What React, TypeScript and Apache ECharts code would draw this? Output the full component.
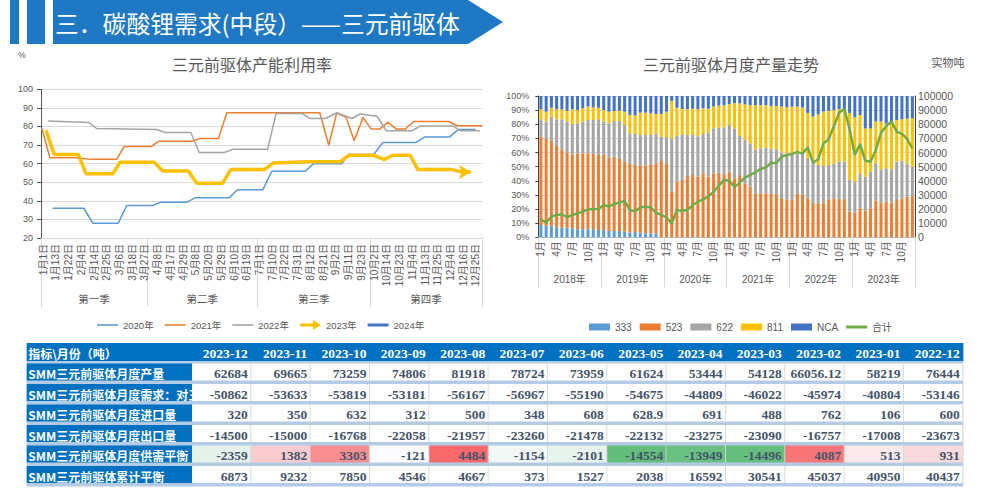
import React, { useEffect, useRef } from 'react';
import * as echarts from 'echarts';

const FONT = "'Liberation Sans','Noto Sans CJK SC',sans-serif";
const CJK = "'Noto Sans CJK SC',sans-serif";
const SERIF = "'Liberation Serif','Noto Sans CJK SC',serif";
const GRAY = '#595959';
const BANNER = '#1f78c3';
const TBLUE = '#0070c0';

// ---------- left chart: 三元前驱体产能利用率 ----------
const dates = [
  '1-1','1-5','1-9','1-13','1-16','1-19','1-22','1-26','1-31','2-4','2-7','2-10','2-14','2-17','2-21','2-25','2-28','3-3','3-6','3-10','3-14','3-18','3-21','3-24','3-27',
  '3-31','4-4','4-8','4-11','4-14','4-17','4-21','4-25','4-29','5-2','5-5','5-8','5-12','5-16','5-20','5-23','5-26','5-29','6-2','6-6','6-10','6-13','6-16','6-19','6-23','6-27',
  '7-1','7-4','7-7','7-10','7-14','7-18','7-22','7-25','7-28','7-31','8-4','8-8','8-12','8-15','8-18','8-21','8-25','8-29','9-2','9-5','9-8','9-11','9-15','9-19','9-23','9-26','9-29',
  '10-2','10-6','10-10','10-14','10-17','10-20','10-23','10-27','10-31','11-4','11-7','11-10','11-13','11-17','11-21','11-25','11-28','12-1','12-4','12-8','12-12','12-16','12-19','12-22','12-25','12-28'
];
const quarterNames = ['第一季', '第二季', '第三季', '第四季'];
const quarterBounds = [0, 25, 51, 77.5, 104];

const util2020 = [[2.75,36],[10.1,36],[12.2,28],[18.2,28],[20.2,37.5],[26.3,37.5],[28.3,39.3],[34.4,39.3],[36.3,41.6],[44.3,41.6],[46.3,46],[52.3,46],[54.4,55.9],[62.3,55.9],[64.2,60],[70.9,60],[72.5,64.9],[78.4,64.9],[80.6,71.4],[88.4,71.4],[90.4,74.4],[96.3,74.4],[98.4,78.4],[102.4,78.4]];
const util2021 = [[0.2,78.9],[2.1,63.2],[8.4,63.2],[11.7,62.3],[17.8,62.3],[19.6,69.2],[25.9,69.2],[27.8,72.1],[35.5,72.1],[37.5,73.5],[41.8,73.5],[43.8,87.4],[65.7,87.4],[67.8,69.9],[69.7,87.4],[71.9,84.9],[73.8,72.3],[75.9,84.9],[77.8,78.6],[79.8,78.6],[81.8,82.3],[83.7,78.6],[85.9,78.6],[87.8,82.7],[96.1,82.7],[98.1,80.4],[104,80.4]];
const util2022 = [[1.7,82.9],[11.2,82.2],[13.1,78.9],[27.3,78.4],[29.2,76.8],[35.3,76.8],[37.3,66],[43.2,66],[45.1,67.7],[53.4,67.7],[55.4,87],[61.5,87],[63.3,84.3],[67,84.3],[69.7,87.4],[73.3,84.3],[75.2,86.7],[79.2,85.5],[81.4,77.7],[87.4,77.7],[89.4,80.2],[97.2,80.2],[98.8,77.7],[103.4,77.7]];
const util2023 = [[1.2,78],[3.1,64.9],[8.8,64.9],[10.6,54.6],[16.9,54.6],[18.6,60.7],[26.7,60.7],[28.7,56],[34.7,56],[36.7,49.5],[42.8,49.5],[44.7,56.8],[52.6,56.8],[54.8,60.4],[62.7,61],[70.5,61],[72.5,64.5],[78.4,64.5],[80.9,62.2],[82.9,64.5],[87,64.5],[88.8,56.8],[96.8,56.8],[99.2,55.5],[101.3,55.5]];
const util2024: number[][] = [];

// ---------- right chart: 三元前驱体月度产量走势 ----------
const years = ['2018年', '2019年', '2020年', '2021年', '2022年', '2023年'];
const monthNames = ['1月','2月','3月','4月','5月','6月','7月','8月','9月','10月','11月','12月'];
const share333 = [8.7,8.0,8.3,7.1,6.8,6.8,6.4,5.7,5.7,5.7,5.7,5.2, 5.2,4.5,4.5,4.5,4.0,3.3,3.8,3.3,2.8,2.8,2.8,0, 0,0,0,0,0,0,0,0,0,0,0,0, 0,0,0,0,0,0,0,0,0,0,0,0, 0,0,0,0,0,0,0,0,0,0,0,0, 0,0,0,0,0,0,0,0,0,0,0,0];
const share523 = [62.5,61.6,59.9,57.5,55.5,53.1,51.9,53.7,53.7,53.7,53.3,53.1, 53.1,51.9,52.6,50.9,49.5,48.6,47.4,47.6,48.1,48.6,49.6,54.0, 51.9,32.3,39.4,40.6,43.4,44.1,42.9,45.3,42.9,45.3,45.8,44.6, 46.5,41.7,44.0,38.2,35.8,30.7,30.7,31.1,30.7,30.5,27.6,26.9, 26.4,30.7,30.0,27.6,24.5,24.1,24.1,26.9,27.6,27.0,27.0,18.2, 17.5,20.5,18.9,20.5,25.9,24.5,25.2,24.5,26.4,27.6,28.8,29.2];
const share622 = [12.3,12.2,17.2,18.9,21.2,21.9,21.7,21.3,22.4,23.6,24.0,25.2, 23.5,24.3,25.2,26.9,26.0,21.6,21.9,21.5,21.5,21.0,21.2,17.2, 18.9,37.3,32.5,32.3,29.0,28.8,28.6,27.8,31.2,31.8,31.8,33.2, 33.0,35.3,28.0,30.8,30.7,31.3,32.3,32.3,32.3,31.8,32.4,32.5, 33.6,28.7,29.4,28.4,29.5,27.1,26.4,24.3,24.3,26.5,26.5,22.4, 21.9,24.8,24.0,26.0,26.5,23.6,23.6,23.6,27.1,26.6,23.1,20.8];
const share811 = [7.1,7.1,6.3,7.1,7.1,7.8,10.6,9.4,9.5,9.5,9.0,8.2, 8.3,8.2,7.1,7.3,9.4,13.1,13.0,15.8,15.8,15.3,13.7,16.1, 18.1,26.9,19.8,17.9,18.2,18.1,19.1,18.2,16.9,15.4,15.6,15.6, 14.8,18.0,22.8,25.0,27.0,31.5,30.5,30.1,30.0,30.7,32.5,32.6, 32.5,33.1,32.6,32.0,31.5,35.8,38.5,38.3,38.1,37.0,36.0,47.4, 45.6,41.2,34.1,30.5,29.6,33.9,31.7,33.9,29.5,29.3,32.1,34.3];
const shareNCA = [9.4,11.1,8.3,9.4,9.4,10.4,9.4,9.9,8.7,7.5,8.0,8.3, 9.9,11.1,10.6,10.4,11.1,13.4,13.9,11.8,11.8,12.3,12.7,12.7, 11.1,3.5,8.3,9.2,9.4,9.0,9.4,8.7,9.0,7.5,6.8,6.6, 5.7,5.0,5.2,6.0,6.5,6.5,6.5,6.5,7.0,7.0,7.5,8.0, 7.5,7.5,8.0,12.0,14.5,13.0,11.0,10.5,10.0,9.5,10.5,12.0, 15.0,13.5,23.0,23.0,18.0,18.0,19.5,18.0,17.0,16.5,16.0,15.5];
const totalOutput = [12700,10400,14600,15800,16300,14200,15800,17000,18200,19800,19800,20000, 22900,21700,23600,24500,25700,19300,18200,21200,21700,21200,17500,15800, 14200,9900,19300,18600,19300,22900,25200,26900,28800,32300,36500,40600, 40200,35500,38700,42200,44100,46000,48300,49500,52800,52400,57000,58300, 59000,60400,59400,63700,52800,55200,66500,69300,78800,88200,91000,76444, 58219,66056,54128,53444,61624,73959,78724,81918,74806,73259,69665,62684];

// ---------- table ----------
const tableHeader = '指标\\月份（吨）';
const tableMonths = ['2023-12','2023-11','2023-10','2023-09','2023-08','2023-07','2023-06','2023-05','2023-04','2023-03','2023-02','2023-01','2022-12'];
const rowNames = ['SMM三元前驱体月度产量','SMM三元前驱体月度需求：对三','SMM三元前驱体月度进口量','SMM三元前驱体月度出口量','SMM三元前驱体月度供需平衡','SMM三元前驱体累计平衡'];
const production = [62684,69665,73259,74806,81918,78724,73959,61624,53444,54128,66056.12,58219,76444];
const demand = [-50862,-53633,-53819,-53181,-56167,-56967,-55190,-54675,-44809,-46022,-45974,-40804,-53146];
const imports = [320,350,632,312,500,348,608,628.9,691,488,762,106,600];
const exports = [-14500,-15000,-16768,-22058,-21957,-23260,-21478,-22132,-23275,-23090,-16757,-17008,-23673];
const balance = [-2359,1382,3303,-121,4484,-1154,-2101,-14554,-13949,-14496,4087,513,931];
const cumulative = [6873,9232,7850,4546,4667,373,1527,2038,16592,30541,45037,40950,40437];

const LABEL_SPAN = 2.786;
const HEADER_FILL = 18 / 20.5;
const ROW_FILL = 17 / 20.5;

function balanceColor(v: number): string {
  const sorted = [...balance].sort((a, b) => a - b);
  const mid = sorted[Math.floor(sorted.length / 2)];
  const lo = sorted[0];
  const hi = sorted[sorted.length - 1];
  const white = [252, 252, 255];
  let t: number;
  let target: number[];
  if (v >= mid) { t = (v - mid) / (hi - mid); target = [248, 105, 107]; }
  else { t = (v - mid) / (lo - mid); target = [99, 190, 123]; }
  const c = white.map((w, i) => Math.round(w + (target[i] - w) * t));
  return `rgb(${c[0]},${c[1]},${c[2]})`;
}

type Cell = { x0: number; x1: number; row: number; text: string; fill: string; color: string; align: 'left' | 'right'; cjk: boolean; border: boolean };

function buildCells(): Cell[] {
  const cells: Cell[] = [];
  cells.push({ x0: -LABEL_SPAN, x1: tableMonths.length, row: 0, text: '', fill: TBLUE, color: '#fff', align: 'left', cjk: true, border: false });
  cells.push({ x0: -LABEL_SPAN, x1: 0, row: 0, text: tableHeader, fill: '', color: '#fff', align: 'left', cjk: true, border: false });
  tableMonths.forEach((m, j) => cells.push({ x0: j, x1: j + 1, row: 0, text: m, fill: '', color: '#fff', align: 'right', cjk: false, border: false }));
  const rows = [production, demand, imports, exports, balance, cumulative];
  rows.forEach((vals, r) => {
    cells.push({ x0: -LABEL_SPAN, x1: 0, row: r + 1, text: rowNames[r], fill: TBLUE, color: '#fff', align: 'left', cjk: true, border: false });
    vals.forEach((v, j) => cells.push({
      x0: j, x1: j + 1, row: r + 1, text: String(v),
      fill: vals === balance ? balanceColor(v) : '#ffffff',
      color: '#44546a', align: 'right', cjk: false, border: true,
    }));
  });
  return cells;
}

const THIN = 'path://M0,0L21,0L21,1.6L0,1.6Z';
const THICK = 'path://M0,0L21,0L21,3L0,3Z';
const ARROW = 'path://M0,3.5L13,3.5L13,0L21,5L13,10L13,6.5L0,6.5Z';

function buildOption(): any {
  const cells = buildCells();
  const monthCats = years.flatMap((y) => monthNames.map((m) => `${y}-${m}`));
  const quarterMids = quarterNames.map((_, i) => (quarterBounds[i] + quarterBounds[i + 1]) / 2);
  const lineSeries = (name: string, data: number[][], color: string, width: number) => ({
    name, type: 'line', xAxisIndex: 1, yAxisIndex: 1, data, symbol: 'none', showSymbol: true,
    lineStyle: { color, width }, itemStyle: { color }, z: width > 3 ? 4 : 3,
  });
  const arrowData: any[] = util2023.map((p, i) => i === util2023.length - 1
    ? { value: p, symbol: 'arrow', symbolSize: [11, 12], symbolRotate: -90 }
    : p);
  const barColors = ['#5b9bd5', '#ed7d31', '#a5a5a5', '#ffc000', '#4472c4'];
  const barNames = ['333', '523', '622', '811', 'NCA'];
  const barData = [share333, share523, share622, share811, shareNCA];

  return {
    animation: false,
    backgroundColor: '#ffffff',
    textStyle: { fontFamily: FONT },
    graphic: [
      { type: 'rect', shape: { x: 10, y: 0, width: 9, height: 44 }, style: { fill: BANNER } },
      { type: 'rect', shape: { x: 27, y: 0, width: 18, height: 44 }, style: { fill: BANNER } },
      { type: 'polygon', shape: { points: [[53, 0], [468, 0], [503, 22], [468, 44], [53, 44]] }, style: { fill: BANNER } },
      { type: 'text', x: 55, y: 22, style: { text: '三．碳酸锂需求(中段）——三元前驱体', fill: '#ffffff', fontSize: 23.8, fontFamily: CJK, verticalAlign: 'middle' } },
      { type: 'text', x: 252, y: 64, style: { text: '三元前驱体产能利用率', fill: GRAY, fontSize: 16, fontFamily: CJK, align: 'center', verticalAlign: 'middle' } },
      { type: 'text', x: 731, y: 64, style: { text: '三元前驱体月度产量走势', fill: GRAY, fontSize: 16, fontFamily: CJK, align: 'center', verticalAlign: 'middle' } },
      { type: 'text', x: 948, y: 62, style: { text: '实物吨', fill: GRAY, fontSize: 11, fontFamily: CJK, align: 'center', verticalAlign: 'middle' } },
      { type: 'text', x: 22, y: 55, style: { text: '%', fill: GRAY, fontSize: 9, fontFamily: FONT, align: 'center', verticalAlign: 'middle' } },
    ],
    legend: [
      {
        left: 92, top: 315, itemWidth: 21, itemHeight: 10, itemGap: 11,
        textStyle: { fontSize: 9.5, color: GRAY }, itemStyle: { borderWidth: 0 },
        data: [{ name: '2020年', icon: THIN }, { name: '2021年', icon: THIN }, { name: '2022年', icon: THIN }, { name: '2023年', icon: ARROW }, { name: '2024年', icon: THICK }],
      },
      {
        left: 584, top: 317, itemWidth: 21, itemHeight: 7, itemGap: 8,
        textStyle: { fontSize: 10, color: GRAY }, itemStyle: { borderWidth: 0 },
        data: [...barNames.map((n) => ({ name: n, icon: 'rect' })), { name: '合计', icon: THICK }],
      },
    ],
    grid: [
      { left: 41, top: 89.3, width: 441.3, height: 148.7 },
      { left: 41, top: 89.3, width: 441.3, height: 148.7 },
      { left: 538.3, top: 96, width: 376.7, height: 141.3 },
      { left: 538.3, top: 96, width: 376.7, height: 141.3 },
      { left: 26.7, top: 343, width: 936.6, height: 143.5, show: true, backgroundColor: '#b4cbe6', borderWidth: 0 },
    ],
    xAxis: [
      {
        type: 'category', gridIndex: 0, data: dates, boundaryGap: true,
        axisLine: { lineStyle: { color: '#d9d9d9' } }, axisTick: { show: false },
        axisLabel: { interval: 2, rotate: 90, fontSize: 10, color: GRAY, margin: 6, formatter: (v: string) => { const [m, d] = v.split('-'); return `${m}月${d}日`; } },
      },
      {
        type: 'value', gridIndex: 1, min: 0, max: dates.length,
        axisLine: { show: false }, splitLine: { show: false },
        axisTick: { show: true, customValues: quarterBounds, length: 69, lineStyle: { color: '#d9d9d9' } },
        axisLabel: {
          customValues: quarterMids, margin: 56, fontSize: 10.5, color: GRAY,
          formatter: (v: number) => { let best = 0; quarterMids.forEach((q, i) => { if (Math.abs(q - v) < Math.abs(quarterMids[best] - v)) best = i; }); return quarterNames[best]; },
        },
      },
      {
        type: 'category', gridIndex: 2, data: monthCats, boundaryGap: true,
        axisLine: { lineStyle: { color: '#bfbfbf' } }, axisTick: { show: false },
        axisLabel: { interval: 2, rotate: 90, fontSize: 10, color: GRAY, margin: 4, formatter: (v: string) => v.split('-')[1] },
      },
      {
        type: 'category', gridIndex: 3, data: years, boundaryGap: true,
        axisLine: { show: false },
        axisTick: { show: true, interval: 0, length: 50, lineStyle: { color: '#d9d9d9' } },
        axisLabel: { interval: 0, margin: 37, fontSize: 10, color: GRAY },
      },
      { type: 'value', gridIndex: 4, min: -LABEL_SPAN, max: tableMonths.length, show: false },
    ],
    yAxis: [
      {
        type: 'value', gridIndex: 0, min: 20, max: 100, interval: 10,
        axisLine: { show: true, lineStyle: { color: GRAY } },
        axisTick: { show: true, length: 4, lineStyle: { color: GRAY } },
        axisLabel: { fontSize: 9, color: GRAY, margin: 8 },
        splitLine: { lineStyle: { color: '#d9d9d9' } },
      },
      { type: 'value', gridIndex: 1, min: 20, max: 100, show: false },
      {
        type: 'value', gridIndex: 2, min: 0, max: 100, interval: 10, position: 'left',
        axisLine: { show: true, lineStyle: { color: '#404040' } },
        axisTick: { show: true, length: 3, lineStyle: { color: '#404040' } },
        axisLabel: { fontSize: 9, color: GRAY, margin: 9, formatter: '{value}%' },
        splitLine: { lineStyle: { color: '#d9d9d9' } },
      },
      {
        type: 'value', gridIndex: 2, min: 0, max: 100000, interval: 10000, position: 'right',
        axisLine: { show: true, lineStyle: { color: '#404040' } },
        axisTick: { show: false },
        axisLabel: { fontSize: 10.5, color: GRAY, margin: 3, formatter: (v: number) => String(v) },
        splitLine: { show: false },
      },
      { type: 'value', gridIndex: 3, min: 0, max: 1, show: false },
      { type: 'value', gridIndex: 4, min: 0, max: rowNames.length + 1, inverse: true, show: false },
    ],
    series: [
      lineSeries('2020年', util2020, '#5b9bd5', 1.5),
      lineSeries('2021年', util2021, '#ed7d31', 1.5),
      lineSeries('2022年', util2022, '#a5a5a5', 1.5),
      { ...lineSeries('2023年', util2023, '#ffc000', 3.5), data: arrowData },
      lineSeries('2024年', util2024, '#4472c4', 3),
      ...barNames.map((n, k) => ({
        name: n, type: 'bar', xAxisIndex: 2, yAxisIndex: 2, stack: 'share', barWidth: 3,
        data: barData[k], itemStyle: { color: barColors[k] },
      })),
      {
        name: '合计', type: 'line', xAxisIndex: 2, yAxisIndex: 3, data: totalOutput, symbol: 'none',
        lineStyle: { color: '#70ad47', width: 2.5 }, itemStyle: { color: '#70ad47' }, z: 5,
      },
      {
        type: 'custom', xAxisIndex: 4, yAxisIndex: 5, clip: false, silent: true,
        data: cells.map((c) => [c.x0, c.x1, c.row]),
        encode: { x: [0, 1], y: 2 },
        renderItem: (params: any, api: any) => {
          const c = cells[params.dataIndex];
          const p0 = api.coord([c.x0, c.row]);
          const p1 = api.coord([c.x1, c.row + 1]);
          const x = p0[0];
          const y = p0[1];
          const w = p1[0] - p0[0];
          const h = (p1[1] - p0[1]) * (c.row === 0 ? HEADER_FILL : ROW_FILL);
          const children: any[] = [];
          if (c.fill) children.push({ type: 'rect', shape: { x, y, width: w, height: h }, style: { fill: c.fill } });
          if (c.border) children.push({ type: 'rect', shape: { x: x + w - 1, y, width: 1, height: h }, style: { fill: '#d9d9d9' } });
          if (c.text) {
            children.push({
              type: 'text',
              style: {
                text: c.text,
                x: c.align === 'right' ? x + w - 3.5 : x + 1.5,
                y: y + h / 2 + (c.row === 0 ? 1 : 1.5),
                align: c.align, verticalAlign: 'middle', fill: c.color,
                fontSize: c.cjk ? 12 : 13.5, fontWeight: 'bold', fontFamily: c.cjk ? CJK : SERIF,
              },
            });
          }
          return { type: 'group', children };
        },
      },
    ],
  };
}

export default function App() {
  const ref = useRef<HTMLDivElement>(null);
  useEffect(() => {
    const chart = echarts.init(ref.current as HTMLDivElement, undefined, { renderer: 'svg' });
    chart.setOption(buildOption());
    return () => chart.dispose();
  }, []);
  return <div ref={ref} style={{ position: 'absolute', left: 0, top: 0, width: 987, height: 492 }} />;
}
